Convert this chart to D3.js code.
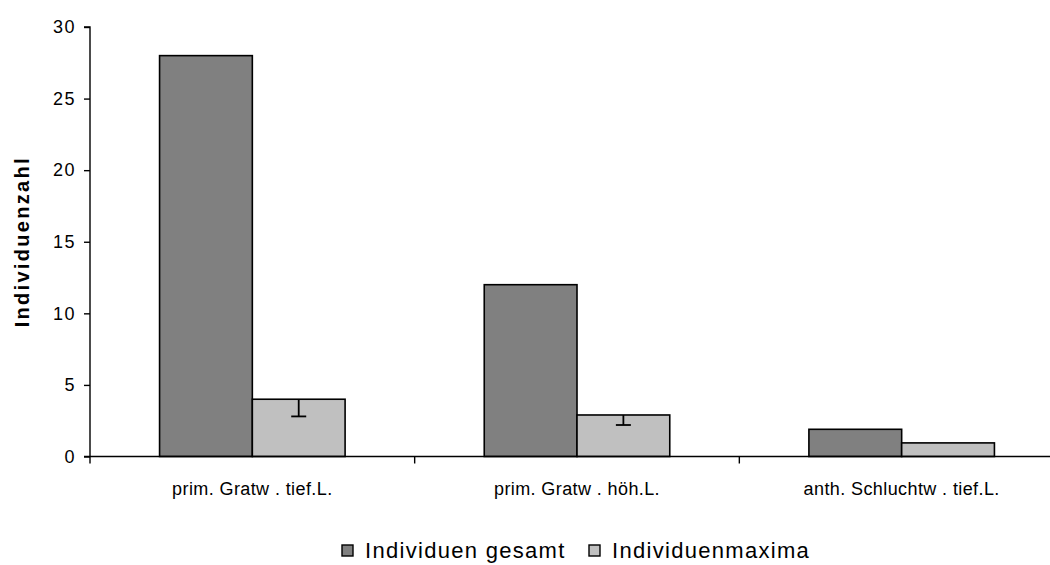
<!DOCTYPE html>
<html>
<head>
<meta charset="utf-8">
<script src="https://cdn.jsdelivr.net/npm/d3@7"></script>
<style>
  html, body { margin: 0; padding: 0; background: #fff; }
  svg { display: block; font-family: "Liberation Sans", Arial, sans-serif; }
</style>
</head>
<body>
<svg id="chart" width="1050" height="565"></svg>
<script>
// Habitat categories
const categories = ["prim. Gratw . tief.L.", "prim. Gratw . höh.L.", "anth. Schluchtw . tief.L."];
// Series values
const totalCounts = [28, 12, 1.9];
const maxCounts = [4, 2.9, 0.95];
// Negative error (lower whisker length) for the maxima
const maxErrors = [1.2, 0.7, 0];
const seriesNames = ["Individuen gesamt", "Individuenmaxima"];
const seriesColors = ["#808080", "#c0c0c0"];
const yTicks = [0, 5, 10, 15, 20, 25, 30];

const svg = d3.select("#chart");
const plotLeft = 90, plotRight = 1064, plotTop = 27, plotBottom = 456.5;

const x = d3.scaleBand().domain(categories).range([plotLeft, plotRight]).paddingInner(0).paddingOuter(0);
const y = d3.scaleLinear().domain([0, 30]).range([plotBottom, plotTop]);
const barW = x.bandwidth() / 3.5;

const series = [totalCounts, maxCounts];

// Bars
series.forEach((vals, s) => {
  svg.append("g").selectAll("rect").data(categories).join("rect")
    .attr("x", (d) => x(d) + x.bandwidth() / 2 - barW + s * barW)
    .attr("y", (d, i) => y(vals[i]))
    .attr("width", barW)
    .attr("height", (d, i) => y(0) - y(vals[i]))
    .attr("fill", seriesColors[s])
    .attr("stroke", "#000")
    .attr("stroke-width", 1.6);
});

// Error bars (minus direction only)
const eg = svg.append("g").attr("stroke", "#000").attr("stroke-width", 1.8);
categories.forEach((c, i) => {
  if (!maxErrors[i]) return;
  const cx = x(c) + x.bandwidth() / 2 + barW / 2;
  eg.append("line").attr("x1", cx).attr("x2", cx)
    .attr("y1", y(maxCounts[i])).attr("y2", y(maxCounts[i] - maxErrors[i]));
  eg.append("line").attr("x1", cx - 7.5).attr("x2", cx + 7.5)
    .attr("y1", y(maxCounts[i] - maxErrors[i])).attr("y2", y(maxCounts[i] - maxErrors[i]));
});

// Y axis
const yAxis = svg.append("g").attr("transform", `translate(${plotLeft},0)`)
  .call(d3.axisLeft(y).tickValues(yTicks).tickSize(6).tickPadding(8));
yAxis.select(".domain").attr("stroke-width", 1.4).attr("d", `M-6,${plotTop}H0V${plotBottom}`);
yAxis.selectAll(".tick line").attr("stroke-width", 1.4);
yAxis.selectAll("text").attr("font-size", 18).attr("letter-spacing", 1.5).attr("fill", "#000")
  .attr("font-family", "'Liberation Sans', Arial, sans-serif");

// X axis
const xAxis = svg.append("g").attr("transform", `translate(0,${plotBottom})`)
  .call(d3.axisBottom(x).tickSize(0).tickPadding(26));
xAxis.select(".domain").attr("stroke-width", 1.6).attr("d", `M${plotLeft - 6},0H${plotRight}`);
xAxis.selectAll("text").attr("font-size", 18).attr("letter-spacing", 0.4).attr("fill", "#000")
  .attr("font-family", "'Liberation Sans', Arial, sans-serif");
// Category separators
svg.append("g").selectAll("line").data(categories).join("line")
  .attr("x1", d => x(d)).attr("x2", d => x(d))
  .attr("y1", plotBottom).attr("y2", plotBottom + 7)
  .attr("stroke", "#000").attr("stroke-width", 1.4);

// Y title
svg.append("text")
  .attr("transform", `translate(29,${(plotTop + plotBottom) / 2 + 0}) rotate(-90)`)
  .attr("text-anchor", "middle")
  .attr("font-size", 20).attr("font-weight", "bold").attr("letter-spacing", 2.3)
  .text("Individuenzahl");

// Legend
const legendItems = [{ x: 342, name: seriesNames[0], color: seriesColors[0] },
                     { x: 589, name: seriesNames[1], color: seriesColors[1] }];
const lg = svg.append("g");
legendItems.forEach(it => {
  lg.append("rect").attr("x", it.x).attr("y", 545).attr("width", 11).attr("height", 11)
    .attr("fill", it.color).attr("stroke", "#000").attr("stroke-width", 1.4);
  lg.append("text").attr("x", it.x + 23).attr("y", 558)
    .attr("font-size", 22).attr("letter-spacing", 1.3).text(it.name);
});
</script>
</body>
</html>
